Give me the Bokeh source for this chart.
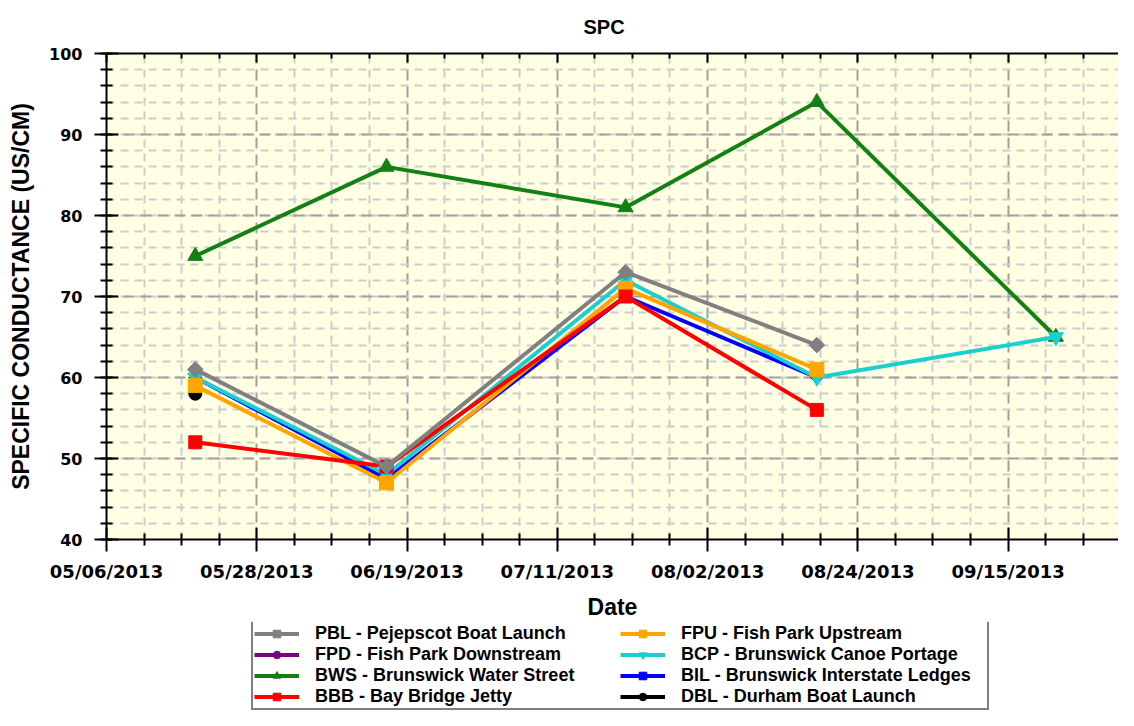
import math
from datetime import datetime
from bokeh.plotting import figure
from bokeh.layouts import column
from bokeh.models import (DatetimeAxis, FixedTicker, DatetimeTickFormatter,
                          CustomJSTickFormatter, Legend, LegendItem, Range1d)
from bokeh.embed import file_html
from bokeh.resources import INLINE

nan = float("nan")

# ---------------- data ----------------
sample_dates = ["05/19/2013", "06/16/2013", "07/21/2013", "08/18/2013", "09/22/2013"]

PBL = [61, 49, 73, 64, nan]
FPD = [nan, 49, nan, nan, nan]
BWS = [75, 86, 81, 94, 65]
BBB = [52, 49, 70, 56, nan]
FPU = [59, 47, 71, 61, nan]
BCP = [60, 48, 72, 60, 65]
BIL = [60, 47.5, 70, 60, nan]
DBL = [58, nan, nan, nan, nan]

legend_labels = ["PBL - Pejepscot Boat Launch", "FPD - Fish Park Downstream",
                 "BWS - Brunswick Water Street", "BBB - Bay Bridge Jetty",
                 "FPU - Fish Park Upstream", "BCP - Brunswick Canoe Portage",
                 "BIL - Brunswick Interstate Ledges", "DBL - Durham Boat Launch"]

x_tick_labels = ["05/06/2013", "05/28/2013", "06/19/2013", "07/11/2013",
                 "08/02/2013", "08/24/2013", "09/15/2013", "10/07/2013"]
x_start = "05/06/2013 00:00"
x_end = "10/01/2013 04:00"
y_ticks = [40, 50, 60, 70, 80, 90, 100]
y_minor_ticks = list(range(40, 101, 2))

# ---------------- helpers ----------------
EPOCH = datetime(1970, 1, 1)


def ms(d):
    return (d - EPOCH).total_seconds() * 1000.0


def pdate(s):
    fmt = "%m/%d/%Y %H:%M" if ":" in s else "%m/%d/%Y"
    return datetime.strptime(s, fmt)


xs = [pdate(s) for s in sample_dates]
major_ms = [ms(pdate(s)) for s in x_tick_labels]
minor_ms = []
for a, b in zip(major_ms[:-1], major_ms[1:]):
    for k in range(1, 4):
        minor_ms.append(a + k * (b - a) / 4.0)

FONT_B = "Liberation Sans"
TICK_FONT = "DejaVu Sans"
W = 1118
LEFT = 106

p = figure(width=W, height=622, x_axis_type="datetime",
           x_range=Range1d(ms(pdate(x_start)), ms(pdate(x_end))),
           y_range=Range1d(40, 100),
           output_backend="svg", toolbar_location=None,
           min_border_left=LEFT, min_border_right=0, min_border_top=53,
           min_border_bottom=83,
           background_fill_color="#FFFFE3", border_fill_color="white",
           outline_line_color=None)

# title
p.title.text = "SPC"
p.title.align = "left"
p.title.offset = 477
p.title.vertical_align = "top"
p.title.standoff = 28
p.title.text_font = FONT_B
p.title.text_font_style = "bold"
p.title.text_font_size = "20px"
p.title.text_color = "black"

# axes
xticker = FixedTicker(ticks=major_ms, minor_ticks=minor_ms)
fmt = "%m/%d/%Y"
xfmt = DatetimeTickFormatter(milliseconds=fmt, seconds=fmt, minsec=fmt, minutes=fmt,
                             hourmin=fmt, hours=fmt, days=fmt, months=fmt, years=fmt,
                             context=None)
xa = p.xaxis[0]
xa.ticker = xticker
xa.formatter = xfmt
xa.axis_label = "Date"
ya = p.yaxis[0]
ya.ticker = FixedTicker(ticks=y_ticks, minor_ticks=y_minor_ticks)
ya.axis_label = "SPECIFIC CONDUCTANCE (US/CM)"

for ax in (xa, ya):
    ax.axis_line_width = 2
    ax.axis_line_color = "black"
    ax.major_tick_line_width = 2
    ax.minor_tick_line_width = 2
    ax.major_tick_line_color = "black"
    ax.minor_tick_line_color = "black"
    ax.major_tick_in = 12
    ax.major_tick_out = 12
    ax.minor_tick_in = 6
    ax.minor_tick_out = 6
    ax.major_label_text_font = TICK_FONT
    ax.major_label_text_font_style = "bold"
    ax.major_label_text_color = "black"
    ax.axis_label_text_font = FONT_B
    ax.axis_label_text_font_style = "bold"
    ax.axis_label_text_color = "black"

xa.major_label_text_font_size = "18px"
xa.major_label_standoff = 9
xa.axis_label_text_font_size = "23px"
xa.axis_label_standoff = 9
ya.major_label_text_font_size = "16px"
ya.major_label_standoff = 12
ya.axis_label_text_font_size = "23px"
ya.axis_label_standoff = 12

top = DatetimeAxis(ticker=xticker, formatter=CustomJSTickFormatter(code="return ''"),
                   major_label_text_font_size="1px", major_label_standoff=0,
                   major_tick_in=9, major_tick_out=0, minor_tick_in=5, minor_tick_out=0,
                   axis_line_width=2, major_tick_line_width=2, minor_tick_line_width=2)
p.add_layout(top, "above")

# grids
for g in (p.xgrid[0], p.ygrid[0]):
    g.grid_line_color = "#a0a0a0"
    g.grid_line_width = 2
    g.grid_line_dash = "11 6"
    g.minor_grid_line_color = "#cdcdcd"
    g.minor_grid_line_width = 2
    g.minor_grid_line_dash = "8 6"

# series styles: color, marker, size, angle
styles = {
    "PBL": ("#808080", "square", 11, math.pi / 4),
    "FPD": ("#800080", "circle", 13, 0.0),
    "BWS": ("#138013", "triangle", 15, 0.0),
    "BBB": ("#ff0000", "square", 13, 0.0),
    "FPU": ("#ffa500", "square", 14, 0.0),
    "BCP": ("#1ccfcf", "inverted_triangle", 15, 0.0),
    "BIL": ("#0000ff", "square", 9, math.pi / 4),
    "DBL": ("#000000", "circle", 13, 0.0),
}
values = {"PBL": PBL, "FPD": FPD, "BWS": BWS, "BBB": BBB,
          "FPU": FPU, "BCP": BCP, "BIL": BIL, "DBL": DBL}
legend_order = ["PBL", "FPD", "BWS", "BBB", "FPU", "BCP", "BIL", "DBL"]
draw_order = ["BWS", "DBL", "BIL", "BCP", "FPU", "BBB", "FPD", "PBL"]


def add_series(fig, x, y, key):
    color, marker, size, angle = styles[key]
    lr = fig.line(x, y, line_color=color, line_width=4)
    sr = fig.scatter(x, y, marker=marker, size=size, angle=angle,
                     fill_color=color, line_color=color)
    return [lr, sr]


for key in draw_order:
    add_series(p, xs, values[key], key)

# legend strip below the chart (same series, outside its own ranges, so only
# the legend glyphs show)
p2 = figure(width=W, height=88, x_range=Range1d(0, 1), y_range=Range1d(0, 1),
            x_axis_location=None, y_axis_location=None,
            output_backend="svg", toolbar_location=None,
            min_border_left=LEFT, min_border_right=0, min_border_top=0,
            min_border_bottom=0,
            outline_line_color=None, border_fill_color="white",
            background_fill_color="white")
p2.xgrid.visible = False
p2.ygrid.visible = False

legend_renderers = {key: add_series(p2, xs, values[key], key) for key in legend_order}
items = [LegendItem(label=lab, renderers=legend_renderers[k])
         for k, lab in zip(legend_order, legend_labels)]
legend = Legend(items=items, nrows=4, orientation="vertical",
                location=(145, 0),
                label_text_font=FONT_B, label_text_font_style="bold",
                label_text_font_size="18px", label_text_color="black",
                label_text_line_height=1.0,
                glyph_width=45, glyph_height=19, label_height=19,
                label_width=305,
                label_standoff=16, spacing=0, padding=1, margin=0,
                border_line_color="black", border_line_width=2,
                background_fill_color="white", background_fill_alpha=1.0)
p2.add_layout(legend, "center")

layout = column(p, p2, spacing=0)
open("out.html", "w").write(file_html(layout, INLINE))
